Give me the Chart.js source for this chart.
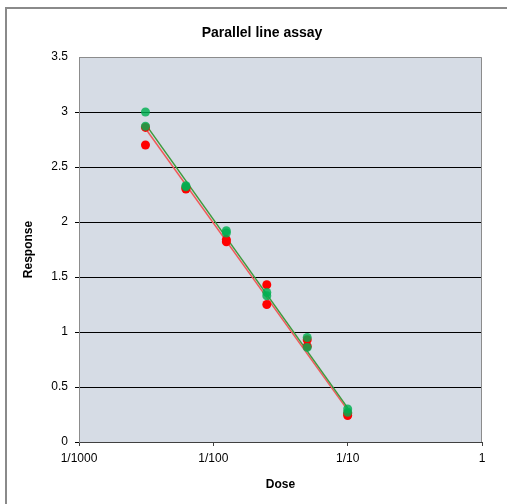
<!DOCTYPE html>
<html>
<head>
<meta charset="utf-8">
<script src="https://cdn.jsdelivr.net/npm/chart.js@4.4.1/dist/chart.umd.min.js"></script>
<style>
  html, body { margin: 0; padding: 0; background: #fff; overflow: hidden; }
  #wrap { position: relative; width: 507px; height: 504px; }
  #frame { position: absolute; left: 5px; top: 7px; width: 700px; height: 700px; border: 2px solid #8a8a8a; box-sizing: border-box; }
  canvas { position: absolute; left: 0; top: 0; }
</style>
</head>
<body>
<div id="wrap">
  <div id="frame"></div>
  <canvas id="c" width="507" height="504"></canvas>
</div>
<script>
// Chart title
const chartTitle = 'Parallel line assay';
// Doses (fraction)
const doses = [1/320, 1/160, 1/80, 1/40, 1/20, 1/10];
// Standard (red) responses, two replicates per dose
const standardRep1 = [2.70, 2.30, 1.82, 1.43, 0.93, 0.24];
const standardRep2 = [2.86, 2.31, 1.84, 1.25, 0.87, 0.26];
// Test (green) responses, two replicates per dose
const testRep1 = [3.00, 2.33, 1.92, 1.36, 0.95, 0.30];
const testRep2 = [2.87, 2.32, 1.90, 1.33, 0.86, 0.27];
// Fitted parallel lines (endpoints at first and last dose)
const fitDoses = [1/320, 1/10];
const standardFit = [2.85, 0.29];
const testFit = [2.89, 0.31];
// Axis ticks
const xTickValues = [0.001, 0.01, 0.1, 1];
const xTickLabels = ['1/1000', '1/100', '1/10', '1'];
const yTicks = [0, 0.5, 1, 1.5, 2, 2.5, 3, 3.5];

function pts(xs, ...ys) {
  const out = [];
  ys.forEach(arr => arr.forEach((v, i) => out.push({x: xs[i], y: v})));
  return out;
}

const font = "'Liberation Sans', Arial, sans-serif";

const bgPlugin = {
  id: 'plotBg',
  beforeDraw(chart) {
    const {ctx, chartArea: a} = chart;
    ctx.save();
    ctx.fillStyle = '#d6dce5';
    ctx.fillRect(a.left, a.top, a.right - a.left, a.bottom - a.top);
    ctx.restore();
  },
  beforeDatasetsDraw(chart) {
    const {ctx, chartArea: a} = chart;
    ctx.save();
    ctx.strokeStyle = '#8c8c8c';
    ctx.lineWidth = 1;
    ctx.beginPath();
    ctx.moveTo(a.left + 0.5, a.bottom);
    ctx.lineTo(a.left + 0.5, a.top + 0.5);
    ctx.lineTo(a.right - 0.5, a.top + 0.5);
    ctx.lineTo(a.right - 0.5, a.bottom);
    ctx.stroke();
    ctx.restore();
  },
  afterDraw(chart) {
    const {ctx} = chart;
    ctx.save();
    ctx.fillStyle = '#000';
    ctx.font = "bold 14px " + font;
    ctx.textAlign = 'center';
    ctx.textBaseline = 'middle';
    ctx.fillText(chartTitle, 262, 33);
    ctx.restore();
  }
};

new Chart(document.getElementById('c'), {
  type: 'scatter',
  data: {
    datasets: [
      {
        label: 'Test',
        data: pts(doses, testRep1, testRep2),
        backgroundColor: 'rgba(0,176,80,0.82)',
        borderWidth: 0,
        pointRadius: 4.5,
        showLine: false
      },
      {
        label: 'Standard',
        data: pts(doses, standardRep1, standardRep2),
        backgroundColor: '#ff0000',
        borderWidth: 0,
        pointRadius: 4.5,
        showLine: false
      },
      {
        label: 'Test fit',
        data: pts(fitDoses, testFit),
        borderColor: '#3d9a3d',
        borderWidth: 1.5,
        pointRadius: 0,
        showLine: true
      },
      {
        label: 'Standard fit',
        data: pts(fitDoses, standardFit),
        borderColor: '#f05a5a',
        borderWidth: 1.5,
        pointRadius: 0,
        showLine: true
      }
    ]
  },
  options: {
    responsive: false,
    animation: false,
    layout: { padding: { left: 0, right: 25, top: 57, bottom: 0 } },
    plugins: {
      legend: { display: false },
      tooltip: { enabled: false },
      title: { display: false }
    },
    scales: {
      x: {
        type: 'logarithmic',
        min: 0.001,
        max: 1,
        afterFit(scale) { scale.height = 62; },
        afterBuildTicks(scale) { scale.ticks = xTickValues.map(v => ({value: v})); },
        ticks: {
          color: '#000',
          font: { family: font, size: 12 },
          padding: 5,
          maxRotation: 0,
          autoSkip: false,
          callback(v) { const i = xTickValues.indexOf(v); return i >= 0 ? xTickLabels[i] : ''; }
        },
        grid: { drawOnChartArea: false, drawTicks: true, tickLength: 4, color: '#404040' },
        border: { color: '#404040', width: 1 },
        title: {
          display: true,
          text: 'Dose',
          color: '#000',
          font: { family: font, size: 12, weight: 'bold' },
          padding: { top: 0, bottom: 12 }
        }
      },
      y: {
        min: 0,
        max: 3.5,
        afterFit(scale) { scale.width = 79; },
        afterBuildTicks(scale) { scale.ticks = yTicks.map(v => ({value: v})); },
        ticks: {
          color: '#000',
          font: { family: font, size: 12 },
          padding: 7,
          callback(v) { return String(v); }
        },
        grid: {
          drawTicks: true,
          tickLength: 4,
          color(ctx) { return ctx.tick && ctx.tick.value === 3.5 ? 'rgba(0,0,0,0)' : '#000'; },
          lineWidth: 1
        },
        border: { color: '#8c8c8c', width: 1 },
        title: {
          display: true,
          text: 'Response',
          color: '#000',
          font: { family: font, size: 12, weight: 'bold' },
          padding: { top: 21, bottom: 0 }
        }
      }
    }
  },
  plugins: [bgPlugin]
});
</script>
</body>
</html>
